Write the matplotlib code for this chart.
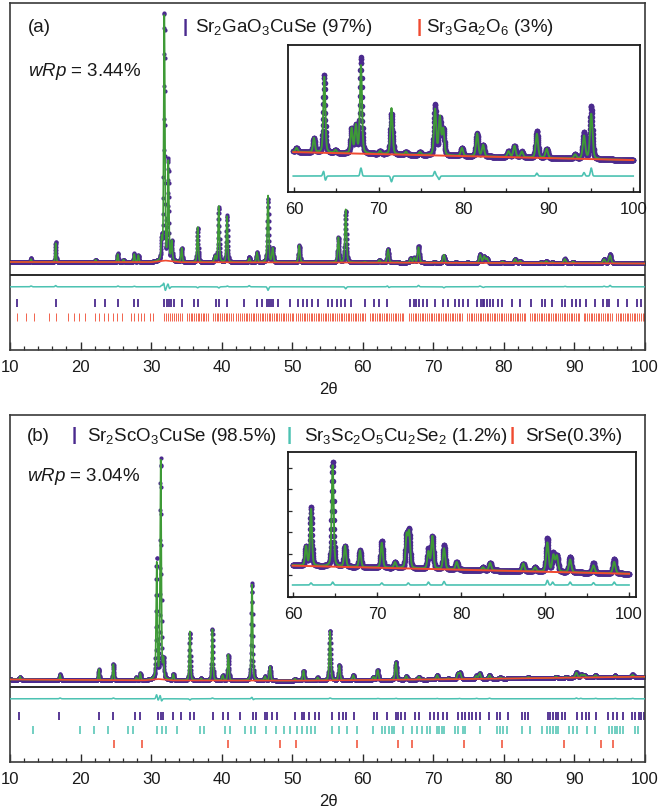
import numpy as np
import matplotlib
matplotlib.use("Agg")
import matplotlib.pyplot as plt
from matplotlib.ticker import MultipleLocator

plt.rcParams['font.family'] = ['Liberation Sans', 'DejaVu Sans']
plt.rcParams['mathtext.fontset'] = 'custom'
plt.rcParams['mathtext.rm'] = 'Liberation Sans'
plt.rcParams['mathtext.it'] = 'Liberation Sans:italic'
plt.rcParams['mathtext.bf'] = 'Liberation Sans:bold'

# ---------------- Panel (a) data: Sr2GaO3CuSe ----------------
a_peak_pos = [12.98, 16.47, 22.14, 25.26, 26.1, 27.62, 28.19, 31.5, 31.87, 32.44, 32.92,
              34.33, 36.6, 39.06, 39.58, 40.76, 43.92, 45.01, 46.57, 47.23, 51.0,
              56.54, 57.58, 60.31, 62.36, 63.58, 64.9, 66.8, 67.3, 67.9, 70.15, 71.5,
              73.2, 74.87, 76.64, 77.2, 77.6, 79.8, 81.6, 82.3, 85.3, 86.0, 86.87,
              88.64, 89.8, 93.15, 94.2, 95.05]
a_peak_int = [3, 19, 2.5, 8, 2.5, 8, 7, 20, 246, 98, 19,
              14, 35, 6, 56, 46, 4, 10, 67, 14, 17,
              25, 53, 0.7, 2.5, 13.3, 0.5, 4.3, 4.8, 15.4, 0.5, 8.1,
              0.5, 0.5, 8.0, 6.6, 4.5, 1.4, 4.0, 2.0, 1.0, 2.0, 1.0,
              4.2, 1.6, 0.7, 4.0, 7.9]
a_bg_pos = [10, 30, 32, 34, 60, 100]
a_bg_int = [12.0, 11.8, 13.5, 11.8, 11.5, 10.5]
a_inset_bg_pos = [60, 100]
a_inset_bg_int = [7.0, 5.6]
a_diff_pos = [12.98, 16.47, 25.3, 27.6, 31.5, 31.8, 32.0, 32.4, 32.6, 36.6, 39.6, 40.8,
              43.9, 46.57, 57.58, 63.5, 63.7, 67.9, 71.5, 76.6, 77.1, 88.64, 94.2, 95.05]
a_diff_amp = [0.8, 1.2, 0.8, 0.6, 1.5, 4.0, -4.0, 3.0, -2.0, -1.0, -1.2, 0.8,
              1.2, -3.5, -2.0, 0.9, -0.8, 1.4, -1.0, 0.8, -0.6, 0.5, 0.6, 1.4]
a_ticks_main = [10.94, 16.47, 22.05, 23.47, 25.36, 27.62, 28.19, 31.88, 32.21, 32.54, 32.82,
                33.25, 34.33, 36.08, 36.6, 39.2, 39.62, 40.8, 43.22, 44.96, 45.77, 46.38,
                46.66, 46.95, 47.33, 47.94, 49.69, 50.87, 51.58, 52.15, 52.76, 53.71, 55.12,
                55.6, 56.4, 56.9, 57.5, 58.4, 60.3, 61.6, 62.3, 63.5, 66.7, 67.2, 67.5, 68.0,
                68.6, 69.1, 70.2, 71.4, 72.1, 73.0, 73.7, 74.2, 74.9, 76.2, 76.7, 77.0, 77.2,
                77.6, 78.0, 78.4, 79.2, 79.7, 81.1, 82.3, 83.9, 85.4, 85.8, 86.8, 88.3, 88.6,
                89.6, 90.2, 90.8, 91.7, 92.9, 94.1, 94.6, 94.9, 96.2, 97.4, 98.8, 99.5]
a_ticks_imp = [10.94, 12.27, 13.45, 15.58, 16.47, 18.27, 19.07, 19.83, 20.68, 22.05, 22.66,
               23.28, 23.89, 24.55, 25.17, 25.87, 27.1, 27.58, 28.1, 28.57, 29.04, 29.84,
               30.32, 31.83, 32.1, 32.38, 32.66, 32.94, 33.22, 33.5, 33.78, 34.06, 34.34,
               35.14, 35.38, 35.62, 35.86, 36.1, 36.34, 36.58, 36.82, 37.06, 37.3, 37.54,
               37.78, 38.0, 38.8, 39.05, 39.3, 39.55, 39.8, 40.05, 40.3, 40.55, 40.8, 41.05,
               41.3, 41.55, 42.1, 42.35, 42.6, 42.85, 43.1, 43.4, 43.65, 43.9, 44.15, 44.4,
               44.65, 44.9, 45.15, 45.4, 45.65, 45.9, 46.15, 46.4, 46.65, 46.9, 47.15, 47.4,
               47.65, 47.9, 48.15, 48.4, 48.65, 48.9, 49.15, 49.4, 49.65, 49.9, 50.15, 50.6,
               50.85, 51.1, 51.35, 51.6, 51.85, 52.1, 52.35, 52.6, 52.85, 53.1, 53.35, 53.6,
               53.85, 54.1, 54.35, 54.6, 54.85, 55.1, 55.35, 55.6, 55.85, 56.1, 56.35, 56.6,
               56.85, 57.1, 57.35, 57.6, 57.85, 58.1, 58.35, 58.6, 58.85, 59.1, 59.35, 59.6,
               59.85, 60.1, 60.35, 61.0, 61.25, 61.5, 61.75, 62.0, 62.25, 62.5, 62.75, 63.0,
               63.25, 63.5, 63.75, 64.0, 64.25, 64.5, 64.75, 65.0, 65.25, 65.5, 65.75, 66.6,
               66.85, 67.1, 67.35, 67.6, 67.85, 68.1, 68.35, 68.6, 68.85, 69.1, 69.35, 69.6,
               69.85, 70.1, 70.35, 70.6, 70.85, 71.1, 71.35, 71.6, 71.85, 72.1, 72.35, 72.6,
               72.85, 73.1, 73.35, 73.6, 73.85, 74.1, 74.8, 75.05, 75.3, 75.55, 75.8, 76.05,
               76.3, 76.55, 76.8, 77.05, 77.3, 77.55, 77.8, 78.05, 78.3, 78.55, 78.8, 79.05,
               79.3, 79.55, 79.8, 80.05, 80.3, 80.55, 80.8, 81.05, 81.3, 81.55, 81.8, 82.05,
               82.3, 82.55, 82.8, 83.05, 83.7, 83.95, 84.2, 84.45, 84.7, 84.95, 85.2, 85.45,
               85.7, 85.95, 86.2, 86.45, 86.7, 86.95, 87.2, 87.45, 87.7, 87.95, 88.2, 88.45,
               88.7, 88.95, 89.2, 89.45, 89.7, 89.95, 90.2, 90.45, 90.7, 91.3, 91.55, 91.8,
               92.05, 92.3, 92.55, 92.8, 93.05, 93.3, 93.55, 93.8, 94.05, 94.3, 94.55, 94.8,
               95.05, 95.3, 95.9, 96.15, 96.4, 96.65, 96.9, 97.15, 97.4, 97.65, 97.9, 98.15,
               98.4, 98.65, 98.9, 99.15, 99.4, 99.65, 99.9]

# ---------------- Panel (b) data: Sr2ScO3CuSe ----------------
b_peak_pos = [11.42, 17.09, 22.6, 24.65, 27.9, 28.47, 30.79, 31.36, 31.75, 33.15, 35.5,
              37.1, 38.68, 40.14, 40.95, 44.3, 46.14, 46.85, 50.4, 51.6, 53.6, 55.36,
              56.68, 58.66, 61.51, 62.11, 64.69, 66.16, 67.95, 70.54, 72.12, 73.5, 73.8,
              76.1, 76.57, 77.96, 79.47, 82.6, 83.45, 87.4, 88.8, 90.27, 90.99, 91.4,
              92.98, 95.76, 98.23]
b_peak_int = [3, 5, 11, 16, 3, 7, 116, 218, 18, 6, 49,
              2, 51, 5, 26, 96, 4, 14, 2, 10, 3, 49,
              15, 5, 3.3, 9.8, 17.5, 3.6, 2.9, 4.3, 1.0, 5.5, 6.0,
              2.9, 5.6, 3.6, 1.3, 0.5, 1.3, 1.3, 0.7, 5.0, 2.8, 2.7,
              2.2, 1.3, 2.0]
b_bg_pos = [10, 29, 31, 33, 50, 70, 100]
b_bg_int = [6.5, 5.6, 7.0, 5.6, 5.3, 6.5, 9.3]
b_inset_bg_pos = [60, 100]
b_inset_bg_int = [5.4, 4.0]
b_diff_pos = [17.09, 24.65, 30.79, 30.95, 31.3, 31.45, 35.5, 38.68, 44.3, 44.45, 55.36,
              62.11, 64.69, 70.54, 73.7, 76.1, 77.96, 90.27, 90.9, 92.98, 95.76, 98.23]
b_diff_amp = [0.8, 0.8, 4.5, -2.0, 4.0, -3.0, -1.2, 0.8, 1.8, -1.2, 0.8,
              0.35, 0.5, 0.35, 0.35, 0.5, 0.6, 0.8, 0.5, 0.5, 0.4, 0.5]
b_ticks_main = [11.28, 16.99, 22.62, 24.65, 27.72, 28.43, 31.03, 31.36, 31.73, 33.15, 34.24,
                35.51, 36.08, 38.73, 40.14, 40.95, 42.6, 44.49, 44.87, 46.14, 46.38, 47.09,
                47.89, 50.4, 51.44, 51.67, 52.43, 53.23, 53.85, 55.6, 56.68, 57.25, 57.63,
                58.76, 61.64, 62.07, 63.48, 64.71, 65.04, 65.42, 65.99, 67.41, 68.02, 69.53,
                70.1, 70.71, 71.42, 71.99, 73.55, 74.02, 74.49, 75.11, 75.44, 76.05, 76.62,
                77.94, 78.98, 79.45, 80.64, 82.5, 83.0, 83.47, 86.3, 86.6, 87.0, 87.4, 87.7,
                88.2, 88.67, 90.4, 91.03, 91.6, 92.0, 93.0, 94.8, 95.4, 96.1, 96.9, 98.1,
                98.6, 99.1, 99.5, 99.9]
b_ticks_imp1 = [13.31, 19.92, 21.95, 23.84, 26.68, 27.39, 30.79, 31.5, 32.07, 33.62, 36.93,
                37.5, 40.47, 41.18, 43.31, 44.11, 44.73, 46.24, 47.7, 48.84, 49.69, 50.63,
                51.34, 52.05, 52.62, 53.23, 55.6, 56.68, 57.72, 59.14, 61.5, 62.68, 63.15,
                63.77, 64.1, 64.48, 65.75, 66.93, 67.74, 68.35, 69.06, 69.53, 70.57, 70.86,
                71.19, 71.52, 73.08, 73.55, 74.16, 74.49, 76.62, 78.98, 79.45, 79.93, 80.5,
                82.5, 83.7, 85.36, 86.07, 86.6, 87.0, 87.4, 87.7, 89.28, 89.85, 90.4, 91.74,
                92.92, 94.95, 95.28, 95.76, 96.1, 96.46, 96.84, 98.6, 99.06]
b_ticks_imp2 = [24.74, 28.66, 40.85, 48.27, 50.54, 59.14, 65.05, 66.94, 74.36, 79.79,
                88.53, 93.7, 95.43]

# ---------------- styling ----------------
PURPLE = '#4b2a8e'
GREEN = '#3e9a36'
RED = '#f04a30'
CYAN = '#4cc2b2'
DARK = '#2a2a2a'
W, H = 661, 810

x = np.arange(10.0, 100.0001, 0.02)


def peaks(xx, pos, inten):
    y = np.zeros_like(xx)
    for p, h in zip(pos, inten):
        fw = 0.12 + 0.0024 * p
        d = (xx - p) / (fw / 2)
        y += h * (0.35 / (1 + d ** 2) + 0.65 * np.exp(-np.log(2) * d ** 2))
    return y


def resid(xx, pos, amp):
    y = np.zeros_like(xx)
    for p, a in zip(pos, amp):
        y += a * np.exp(-0.5 * ((xx - p) / 0.1) ** 2)
    return y


def px_axes(l, t, r, b):
    return [l / W, 1 - b / H, (r - l) / W, (b - t) / H]


def ftext(xp, yp, s, **kw):
    fig.text(xp / W, 1 - yp / H, s, **kw)


fig = plt.figure(figsize=(W / 100, H / 100), dpi=100)


def draw_panel(top, peak_pos, peak_int, bg_pos, bg_int, diff_pos, diff_amp,
               tick_sets, inset_box, inset_bg_pos, inset_bg_int, inset_scale,
               inset_yticks):
    ax = fig.add_axes(px_axes(10, top, 645, top + 347))
    calc_pk = peaks(x, peak_pos, peak_int)
    bg = np.interp(x, bg_pos, bg_int)
    calc = calc_pk + bg
    dif = resid(x, diff_pos, diff_amp)
    obs = calc + dif
    ax.plot(x, obs, 'o', color=PURPLE, ms=3.0, mew=0, zorder=2)
    ax.plot(x, calc, '-', color=GREEN, lw=1.2, zorder=3)
    ax.plot(x, bg, '-', color=RED, lw=1.2, zorder=4)
    ax.axhline(-0.6, color=DARK, lw=1.4, zorder=5)
    ax.plot(x, obs - calc - 12.8, '-', color=CYAN, lw=1.1, zorder=3)
    for (vals, col, yoff, mw) in tick_sets:
        ax.plot(vals, np.full(len(vals), yoff), '|', color=col, ms=5.2, mew=mw)
    ax.set_xlim(10, 100)
    ax.set_ylim(-76, 271)
    ax.set_yticks([])
    ax.xaxis.set_major_locator(MultipleLocator(10))
    ax.xaxis.set_minor_locator(MultipleLocator(2))
    ax.tick_params(axis='x', which='major', direction='in', length=5.5, width=1.0,
                   labelsize=12, pad=7, colors=DARK, labelcolor='#1a1a1a')
    ax.tick_params(axis='x', which='minor', direction='in', length=2.8, width=0.9,
                   colors=DARK)
    for s in ax.spines.values():
        s.set_linewidth(1.2)
        s.set_color('#3a3a3a')

    # inset
    l, t, r, b, xl0, xl1 = inset_box
    ins = fig.add_axes(px_axes(l, t, r, b))
    m = x >= 59.9
    xi = x[m]
    ibg = np.interp(xi, inset_bg_pos, inset_bg_int)
    icalc = calc_pk[m] + ibg
    iobs = icalc + dif[m]
    ins.plot(xi, iobs, 'o', color=PURPLE, ms=4.0, mew=0, zorder=2)
    ins.plot(xi, icalc, '-', color=GREEN, lw=1.4, zorder=3)
    ins.plot(xi, ibg, '-', color=RED, lw=1.4, zorder=4)
    ins.plot(xi, iobs - icalc + inset_scale[1], '-', color=CYAN, lw=1.2, zorder=3)
    ins.set_xlim(xl0, xl1)
    ins.set_ylim(0, inset_scale[0])
    ins.xaxis.set_major_locator(MultipleLocator(10))
    ins.xaxis.set_minor_locator(MultipleLocator(5))
    ins.tick_params(axis='x', which='major', direction='in', length=3.5, width=1.0,
                    labelsize=12, pad=7, colors=DARK, labelcolor='#1a1a1a')
    ins.tick_params(axis='x', which='minor', direction='in', length=3.0, width=0.9,
                    colors=DARK)
    if inset_yticks:
        ins.yaxis.set_major_locator(MultipleLocator(inset_yticks))
        ins.tick_params(axis='y', direction='in', length=3.0, width=0.9,
                        labelleft=False, colors=DARK)
    else:
        ins.set_yticks([])
    for s in ins.spines.values():
        s.set_linewidth(1.3)
        s.set_color('#1a1a1a')
    return ax


# panel (a)
draw_panel(3, a_peak_pos, a_peak_int, a_bg_pos, a_bg_int, a_diff_pos, a_diff_amp,
           [(a_ticks_main, PURPLE, -29, 1.3), (a_ticks_imp, RED, -43, 0.6)],
           (288, 45, 640, 192, 59.3, 100.8), a_inset_bg_pos, a_inset_bg_int,
           (147 / 5.7, 2.8), None)
# panel (b)
draw_panel(415, b_peak_pos, b_peak_int, b_bg_pos, b_bg_int, b_diff_pos, b_diff_amp,
           [(b_ticks_main, PURPLE, -29.5, 1.3), (b_ticks_imp1, CYAN, -43.5, 1.1),
            (b_ticks_imp2, RED, -58, 1.1)],
           (288, 452, 636, 597, 59.37, 100.83), b_inset_bg_pos, b_inset_bg_int,
           (145 / 5.8, 2.07), 3.72)

TXT = '#1a1a1a'
LS = 13.5
# panel (a) labels
ftext(28, 32, '(a)', fontsize=LS, color=TXT, va='baseline')
ftext(28, 76, r'$wRp$ = 3.44%', fontsize=LS, color=TXT, va='baseline')
ftext(185, 27, '|', fontsize=LS, color=PURPLE, va='center', ha='center', fontweight='bold')
ftext(195, 32, r'Sr$_2$GaO$_3$CuSe (97%)', fontsize=LS, color=TXT, va='baseline')
ftext(419, 27, '|', fontsize=LS, color=RED, va='center', ha='center', fontweight='bold')
ftext(426, 32, r'Sr$_3$Ga$_2$O$_6$ (3%)', fontsize=LS, color=TXT, va='baseline')
ftext(328, 390, '2θ', fontsize=12, color=TXT, va='center', ha='center')
# panel (b) labels
ftext(27, 441, '(b)', fontsize=LS, color=TXT, va='baseline')
ftext(27, 481, r'$wRp$ = 3.04%', fontsize=LS, color=TXT, va='baseline')
ftext(74, 435, '|', fontsize=LS, color=PURPLE, va='center', ha='center', fontweight='bold')
ftext(87, 441, r'Sr$_2$ScO$_3$CuSe (98.5%)', fontsize=LS, color=TXT, va='baseline')
ftext(289, 435, '|', fontsize=LS, color=CYAN, va='center', ha='center', fontweight='bold')
ftext(304, 441, r'Sr$_3$Sc$_2$O$_5$Cu$_2$Se$_2$ (1.2%)', fontsize=LS, color=TXT, va='baseline')
ftext(512, 435, '|', fontsize=LS, color=RED, va='center', ha='center', fontweight='bold')
ftext(525, 441, r'SrSe(0.3%)', fontsize=LS, color=TXT, va='baseline')
ftext(328, 802, '2θ', fontsize=12, color=TXT, va='center', ha='center')

fig.savefig('out.png', dpi=100)
